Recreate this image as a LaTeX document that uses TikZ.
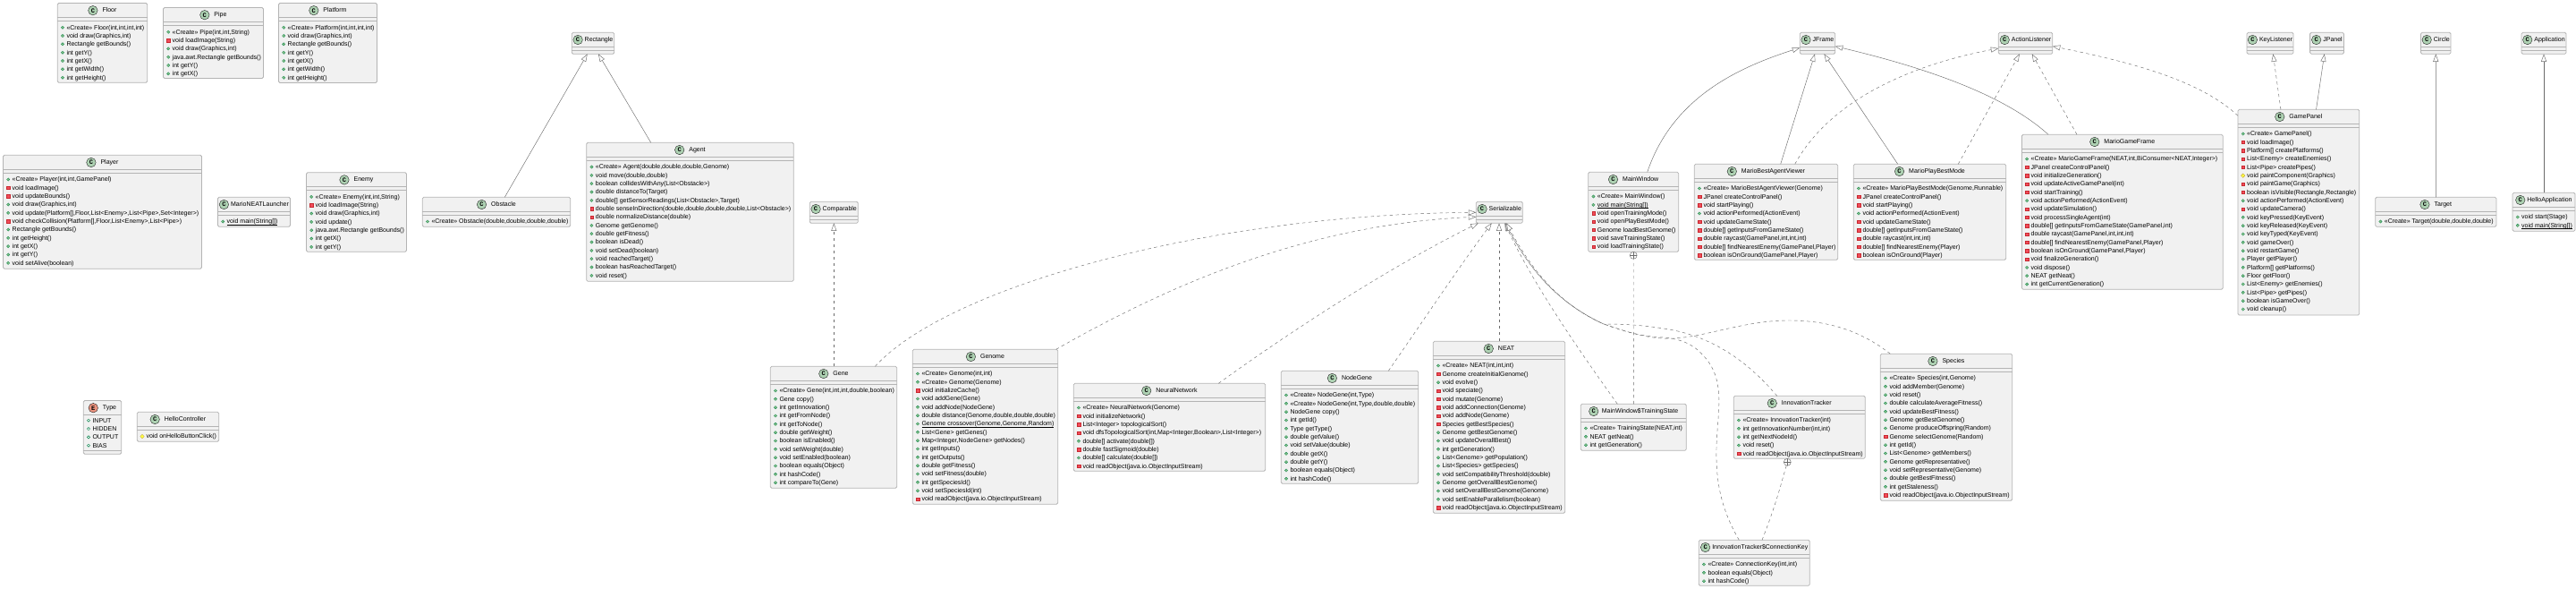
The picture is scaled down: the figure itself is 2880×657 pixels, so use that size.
\documentclass[tikz,border=0pt]{standalone}
\usepackage{fontspec}
\setmainfont{Liberation Sans}
\setmonofont{Liberation Mono}
\usepackage{tikz}
\usetikzlibrary{positioning}
\usetikzlibrary{arrows.meta}
\usetikzlibrary{shapes.geometric}

\definecolor{boxfill}{HTML}{F1F1F1}
\definecolor{boxline}{HTML}{B4B4B4}
\definecolor{iconc}{HTML}{ADD1B2}
\definecolor{icone}{HTML}{EB937F}
\definecolor{pubfill}{HTML}{84BE84}
\definecolor{publine}{HTML}{038048}
\definecolor{prifill}{HTML}{F24D5C}
\definecolor{priline}{HTML}{C82930}
\definecolor{profill}{HTML}{FFFF44}
\definecolor{proline}{HTML}{B38D22}

\tikzset{
    classbox/.style={draw=boxline,fill=boxfill,line width=.8,rounded corners=1.5,anchor=north west,inner sep=0,outer sep=0},
    sepline/.style={draw=boxline,line width=.7},
    classtitle/.style={anchor=base,inner sep=0,text height=5.4,text depth=1.4,font=\fontsize{7}{8}\selectfont},
    classicon/.style={circle,draw=black!85,line width=.4,minimum size=10.5,inner sep=0,font=\fontsize{7}{8}\selectfont\ttfamily\bfseries},
    rowtext/.style={anchor=base west,inner sep=0,font=\fontsize{7}{8}\selectfont},
    pubmark/.style={circle,draw=publine,fill=pubfill,line width=.25,minimum size=3.4,inner sep=0},
    fldmark/.style={circle,draw=publine,fill=white,line width=.5,minimum size=3.2,inner sep=0},
    primark/.style={rectangle,draw=priline,fill=prifill,line width=.25,minimum size=3.3,inner sep=0},
    promark/.style={diamond,draw=proline,fill=profill,line width=.25,minimum size=4.6,inner sep=0},
    extends/.style={draw=black!58,line width=.45,-{Triangle[open,fill=white,length=8.5,width=6]}},
    implements/.style={extends,dash pattern=on 3.5 off 3.5},
    nested/.style={draw=black!58,line width=.45,dash pattern=on 3.5 off 3.5},
    plusnode/.style={circle,draw=black!58,fill=white,line width=.45,minimum size=8,inner sep=0,outer sep=0,
        path picture={\draw[black!58,line width=.45] (path picture bounding box.north) -- (path picture bounding box.south)
            (path picture bounding box.west) -- (path picture bounding box.east);}},
}

\newcommand{\statictext}[1]{\vtop{\hbox{#1}\kern-.2pt\hrule height .35pt}}
\newcommand{\umlhead}[9][5]{
    \node[classbox,minimum width=#5,minimum height=#6] (#2) at (#3,#4) {};
    \node[classtitle] (#2-title) at ({#3+#5/2+(11+#1)/2},{#4+10.2}) {#7};
    \node[classicon,fill=#8,left=#1pt of #2-title] (#2-icon) {#9};
    \draw[sepline] ([yshift=-16]#2.north west) -- ([yshift=-16]#2.north east);
}
\newcommand{\umlrows}[4]{
    \foreach \kind/\txt [count=\i] in {#4} {
        \node[\kind] (#1-m\i) at ({#2+5.7},{#3+(\i-1)*9.333-2.4}) {};
        \node[rowtext] (#1-r\i) at ({#2+10},{#3+(\i-1)*9.333}) {\txt};
    }
}
\newcommand{\umlclass}[7][5]{
    \umlhead[#1]{#2}{#3}{#4}{#5}{#6}{#7}{iconc}{C}
    \draw[sepline] ([yshift=-20]#2.north west) -- ([yshift=-20]#2.north east);
}

\begin{document}
\begin{tikzpicture}[x=1pt,y=-1pt]
    \useasboundingbox (0,0) rectangle (2880,657);

    \umlclass{Floor}{64.3}{3.5}{100.4}{88.8}{Floor}
    \umlrows{Floor}{64.3}{33.1}{pubmark/{«Create» Floor(int,int,int,int)},pubmark/{void draw(Graphics,int)},pubmark/{Rectangle getBounds()},pubmark/{int getY()},pubmark/{int getX()},pubmark/{int getWidth()},pubmark/{int getHeight()}}

    \umlclass{Pipe}{182.5}{8.5}{112}{79}{Pipe}
    \umlrows{Pipe}{182.5}{38.1}{pubmark/{«Create» Pipe(int,int,String)},primark/{void loadImage(String)},pubmark/{void draw(Graphics,int)},pubmark/{java.awt.Rectangle getBounds()},pubmark/{int getY()},pubmark/{int getX()}}

    \umlclass{Platform}{311.5}{3.5}{110}{89}{Platform}
    \umlrows{Platform}{311.5}{33.1}{pubmark/{«Create» Platform(int,int,int,int)},pubmark/{void draw(Graphics,int)},pubmark/{Rectangle getBounds()},pubmark/{int getY()},pubmark/{int getX()},pubmark/{int getWidth()},pubmark/{int getHeight()}}

    \umlclass{Player}{3.5}{173.3}{222}{127}{Player}
    \umlrows{Player}{3.5}{202.9}{pubmark/{«Create» Player(int,int,GamePanel)},primark/{void loadImage()},primark/{void updateBounds()},pubmark/{void draw(Graphics,int)},pubmark/{void update(Platform[],Floor,List<Enemy>,List<Pipe>,Set<Integer>)},primark/{void checkCollision(Platform[],Floor,List<Enemy>,List<Pipe>)},pubmark/{Rectangle getBounds()},pubmark/{int getHeight()},pubmark/{int getX()},pubmark/{int getY()},pubmark/{void setAlive(boolean)}}

    \umlclass[2]{Launcher}{243.5}{220.3}{81}{33}{MarioNEATLauncher}
    \umlrows{Launcher}{243.5}{249.9}{pubmark/{\statictext{void main(String[])}}}

    \umlclass{Enemy}{342.5}{192.7}{112}{88.6}{Enemy}
    \umlrows{Enemy}{342.5}{222.3}{pubmark/{«Create» Enemy(int,int,String)},primark/{void loadImage(String)},pubmark/{void draw(Graphics,int)},pubmark/{void update()},pubmark/{java.awt.Rectangle getBounds()},pubmark/{int getX()},pubmark/{int getY()}}

    \umlclass{Obstacle}{472.3}{220.3}{165.4}{33}{Obstacle}
    \umlrows{Obstacle}{472.3}{249.9}{pubmark/{«Create» Obstacle(double,double,double,double)}}

    \umlclass{Agent}{655.7}{159.3}{231.6}{155}{Agent}
    \umlrows{Agent}{655.7}{188.9}{pubmark/{«Create» Agent(double,double,double,Genome)},pubmark/{void move(double,double)},pubmark/{boolean collidesWithAny(List<Obstacle>)},pubmark/{double distanceTo(Target)},pubmark/{double[] getSensorReadings(List<Obstacle>,Target)},primark/{double senseInDirection(double,double,double,double,List<Obstacle>)},primark/{double normalizeDistance(double)},pubmark/{Genome getGenome()},pubmark/{double getFitness()},pubmark/{boolean isDead()},pubmark/{void setDead(boolean)},pubmark/{void reachedTarget()},pubmark/{boolean hasReachedTarget()},pubmark/{void reset()}}

    \umlclass[2]{Rectangle}{639.3}{36.3}{47.4}{24}{Rectangle}
    \umlclass[2]{Comparable}{905.3}{225.3}{54}{24}{Comparable}

    \umlclass{Gene}{861.3}{409.3}{141.4}{136}{Gene}
    \umlrows{Gene}{861.3}{438.9}{pubmark/{«Create» Gene(int,int,int,double,boolean)},pubmark/{Gene copy()},pubmark/{int getInnovation()},pubmark/{int getFromNode()},pubmark/{int getToNode()},pubmark/{double getWeight()},pubmark/{boolean isEnabled()},pubmark/{void setWeight(double)},pubmark/{void setEnabled(boolean)},pubmark/{boolean equals(Object)},pubmark/{int hashCode()},pubmark/{int compareTo(Gene)}}

    \umlclass{Genome}{1020.3}{390.3}{162.4}{173}{Genome}
    \umlrows{Genome}{1020.3}{419.9}{pubmark/{«Create» Genome(int,int)},pubmark/{«Create» Genome(Genome)},primark/{void initializeCache()},pubmark/{void addGene(Gene)},pubmark/{void addNode(NodeGene)},pubmark/{double distance(Genome,double,double,double)},pubmark/{\statictext{Genome crossover(Genome,Genome,Random)}},pubmark/{List<Gene> getGenes()},pubmark/{Map<Integer,NodeGene> getNodes()},pubmark/{int getInputs()},pubmark/{int getOutputs()},pubmark/{double getFitness()},pubmark/{void setFitness(double)},pubmark/{int getSpeciesId()},pubmark/{void setSpeciesId(int)},primark/{void readObject(java.io.ObjectInputStream)}}

    \umlclass{NeuralNetwork}{1200.3}{428.3}{214.4}{98}{NeuralNetwork}
    \umlrows{NeuralNetwork}{1200.3}{457.9}{pubmark/{«Create» NeuralNetwork(Genome)},primark/{void initializeNetwork()},primark/{List<Integer> topologicalSort()},primark/{void dfsTopologicalSort(int,Map<Integer,Boolean>,List<Integer>)},pubmark/{double[] activate(double[])},primark/{double fastSigmoid(double)},pubmark/{double[] calculate(double[])},primark/{void readObject(java.io.ObjectInputStream)}}

    \umlclass{NodeGene}{1432.3}{414.3}{153.4}{126}{NodeGene}
    \umlrows{NodeGene}{1432.3}{443.9}{pubmark/{«Create» NodeGene(int,Type)},pubmark/{«Create» NodeGene(int,Type,double,double)},pubmark/{NodeGene copy()},pubmark/{int getId()},pubmark/{Type getType()},pubmark/{double getValue()},pubmark/{void setValue(double)},pubmark/{double getX()},pubmark/{double getY()},pubmark/{boolean equals(Object)},pubmark/{int hashCode()}}

    \umlclass{NEAT}{1602.3}{381.3}{147.4}{192}{NEAT}
    \umlrows{NEAT}{1602.3}{410.9}{pubmark/{«Create» NEAT(int,int,int)},primark/{Genome createInitialGenome()},pubmark/{void evolve()},primark/{void speciate()},primark/{void mutate(Genome)},primark/{void addConnection(Genome)},primark/{void addNode(Genome)},primark/{Species getBestSpecies()},pubmark/{Genome getBestGenome()},pubmark/{void updateOverallBest()},pubmark/{int getGeneration()},pubmark/{List<Genome> getPopulation()},pubmark/{List<Species> getSpecies()},pubmark/{void setCompatibilityThreshold(double)},pubmark/{Genome getOverallBestGenome()},pubmark/{void setOverallBestGenome(Genome)},pubmark/{void setEnableParallelism(boolean)},primark/{void readObject(java.io.ObjectInputStream)}}

    \umlclass[3.5]{Training}{1767.3}{451.3}{118}{52}{MainWindow\$TrainingState}
    \umlrows{Training}{1767.3}{480.9}{pubmark/{«Create» TrainingState(NEAT,int)},pubmark/{NEAT getNeat()},pubmark/{int getGeneration()}}

    \umlclass[2]{ConnKey}{1899.3}{603.3}{124}{51}{InnovationTracker\$ConnectionKey}
    \umlrows{ConnKey}{1899.3}{632.9}{pubmark/{«Create» ConnectionKey(int,int)},pubmark/{boolean equals(Object)},pubmark/{int hashCode()}}

    \umlclass{Tracker}{1938.3}{442.3}{147}{70}{InnovationTracker}
    \umlrows{Tracker}{1938.3}{471.9}{pubmark/{«Create» InnovationTracker(int)},pubmark/{int getInnovationNumber(int,int)},pubmark/{int getNextNodeId()},pubmark/{void reset()},primark/{void readObject(java.io.ObjectInputStream)}}

    \umlclass{Species}{2102.3}{395.3}{147.4}{164}{Species}
    \umlrows{Species}{2102.3}{424.9}{pubmark/{«Create» Species(int,Genome)},pubmark/{void addMember(Genome)},pubmark/{void reset()},pubmark/{double calculateAverageFitness()},pubmark/{void updateBestFitness()},pubmark/{Genome getBestGenome()},pubmark/{Genome produceOffspring(Random)},primark/{Genome selectGenome(Random)},pubmark/{int getId()},pubmark/{List<Genome> getMembers()},pubmark/{Genome getRepresentative()},pubmark/{void setRepresentative(Genome)},pubmark/{double getBestFitness()},pubmark/{int getStaleness()},primark/{void readObject(java.io.ObjectInputStream)}}

    \umlclass[2]{Serializable}{1650.3}{225.3}{52}{24}{Serializable}

    \umlclass{MainWindow}{1775.7}{192.3}{101}{89}{MainWindow}
    \umlrows{MainWindow}{1775.7}{221.9}{pubmark/{«Create» MainWindow()},pubmark/{\statictext{void main(String[])}},primark/{void openTrainingMode()},primark/{void openPlayBestMode()},primark/{Genome loadBestGenome()},primark/{void saveTrainingState()},primark/{void loadTrainingState()}}

    \umlclass{Viewer}{1894.3}{183.3}{160.4}{107}{MarioBestAgentViewer}
    \umlrows{Viewer}{1894.3}{212.9}{pubmark/{«Create» MarioBestAgentViewer(Genome)},primark/{JPanel createControlPanel()},primark/{void startPlaying()},pubmark/{void actionPerformed(ActionEvent)},primark/{void updateGameState()},primark/{double[] getInputsFromGameState()},primark/{double raycast(GamePanel,int,int,int)},primark/{double[] findNearestEnemy(GamePanel,Player)},primark/{boolean isOnGround(GamePanel,Player)}}

    \umlclass{PlayBest}{2072.3}{183.3}{170.4}{107}{MarioPlayBestMode}
    \umlrows{PlayBest}{2072.3}{212.9}{pubmark/{«Create» MarioPlayBestMode(Genome,Runnable)},primark/{JPanel createControlPanel()},primark/{void startPlaying()},pubmark/{void actionPerformed(ActionEvent)},primark/{void updateGameState()},primark/{double[] getInputsFromGameState()},primark/{double raycast(int,int,int)},primark/{double[] findNearestEnemy(Player)},primark/{boolean isOnGround(Player)}}

    \umlclass{GameFrame}{2260.4}{150.3}{224.8}{173}{MarioGameFrame}
    \umlrows{GameFrame}{2260.4}{179.9}{pubmark/{«Create» MarioGameFrame(NEAT,int,BiConsumer<NEAT,Integer>)},primark/{JPanel createControlPanel()},primark/{void initializeGeneration()},primark/{void updateActiveGamePanel(int)},primark/{void startTraining()},pubmark/{void actionPerformed(ActionEvent)},primark/{void updateSimulation()},primark/{void processSingleAgent(int)},primark/{double[] getInputsFromGameState(GamePanel,int)},primark/{double raycast(GamePanel,int,int,int)},primark/{double[] findNearestEnemy(GamePanel,Player)},primark/{boolean isOnGround(GamePanel,Player)},primark/{void finalizeGeneration()},pubmark/{void dispose()},pubmark/{NEAT getNeat()},pubmark/{int getCurrentGeneration()}}

    \umlclass{GamePanel}{2502}{122.3}{135.8}{229.7}{GamePanel}
    \umlrows{GamePanel}{2502}{151.9}{pubmark/{«Create» GamePanel()},primark/{void loadImage()},primark/{Platform[] createPlatforms()},primark/{List<Enemy> createEnemies()},primark/{List<Pipe> createPipes()},promark/{void paintComponent(Graphics)},primark/{void paintGame(Graphics)},primark/{boolean isVisible(Rectangle,Rectangle)},pubmark/{void actionPerformed(ActionEvent)},primark/{void updateCamera()},pubmark/{void keyPressed(KeyEvent)},pubmark/{void keyReleased(KeyEvent)},pubmark/{void keyTyped(KeyEvent)},pubmark/{void gameOver()},pubmark/{void restartGame()},pubmark/{Player getPlayer()},pubmark/{Platform[] getPlatforms()},pubmark/{Floor getFloor()},pubmark/{List<Enemy> getEnemies()},pubmark/{List<Pipe> getPipes()},pubmark/{boolean isGameOver()},pubmark/{void cleanup()}}

    \umlclass[2]{JFrame}{2012.3}{36.3}{39.4}{24}{JFrame}
    \umlclass[2]{ActionListener}{2234.3}{36.3}{60.5}{24}{ActionListener}
    \umlclass[2]{KeyListener}{2512}{36.3}{52}{24}{KeyListener}
    \umlclass[2]{JPanel}{2582.6}{36.3}{37.8}{24}{JPanel}
    \umlclass[2]{Circle}{2706.5}{36.3}{33.5}{24}{Circle}
    \umlclass[2]{Application}{2819}{36.3}{50}{24}{Application}

    \umlclass{Target}{2655.7}{220.3}{135.2}{33}{Target}
    \umlrows{Target}{2655.7}{249.9}{pubmark/{«Create» Target(double,double,double)}}

    \umlclass[2]{HelloApplication}{2809}{215.3}{70}{43}{HelloApplication}
    \umlrows{HelloApplication}{2809}{244.9}{pubmark/{void start(Stage)},pubmark/{\statictext{void main(String[])}}}

    \umlhead{Type}{93.3}{447.5}{42.4}{59.8}{Type}{icone}{E}
    \draw[sepline] ([yshift=4]Type.south west) -- ([yshift=4]Type.south east);
    \umlrows{Type}{93.3}{472.1}{fldmark/{INPUT},fldmark/{HIDDEN},fldmark/{OUTPUT},fldmark/{BIAS}}

    \umlclass{HelloController}{153.3}{460.3}{91.4}{33}{HelloController}
    \umlrows{HelloController}{153.3}{489.9}{promark/{void onHelloButtonClick()}}

    \draw[extends] ([xshift=9.3]Obstacle.north) -- ([xshift=-6.3]Rectangle.south);
    \draw[extends] ([xshift=-43.8]Agent.north) -- ([xshift=6]Rectangle.south);
    \draw[implements] (Gene.north -| Comparable.south) -- (Comparable.south);

    \draw[implements] ([xshift=46.3]Gene.north) .. controls (1060,320) and (1350,240) .. (Serializable.west);
    \draw[implements] ([xshift=79.2]Genome.north) .. controls (1330,305) and (1480,250) .. ([yshift=-5]Serializable.west);
    \draw[implements] ([xshift=54.8]NeuralNetwork.north) .. controls (1450,365) and (1560,295) .. ([xshift=-23.6]Serializable.south);
    \draw[implements] ([xshift=43.3]NodeGene.north) .. controls (1590,360) and (1630,300) .. ([xshift=-8.6]Serializable.south);
    \draw[implements] (NEAT.north) -- (NEAT.north |- Serializable.south);
    \draw[implements] ([xshift=-18]Training.north) .. controls (1775,405) and (1715,320) .. ([xshift=6]Serializable.south);

    \coordinate (merge) at (1793,362);
    \draw[implements] ([xshift=-17]ConnKey.north) .. controls (1925,570) and (1918,540) .. (1919,500)
        .. controls (1920,460) and (1930,425) .. (1905,398) .. controls (1890,380) and (1870,378) .. (1860,377)
        .. controls (1835,376) and (1815,370) .. (merge) .. controls (1745,340) and (1712,305) .. ([xshift=6.5]Serializable.south);
    \draw[implements] ([xshift=-25.1]Tracker.north) .. controls (1955,405) and (1915,375) .. (1860,367)
        .. controls (1835,363) and (1815,362) .. (merge) .. controls (1745,340) and (1712,305) .. ([xshift=7]Serializable.south);
    \draw[implements] ([xshift=-62.7]Species.north) .. controls (2075,365) and (2035,358) .. (2000,358)
        .. controls (1945,358) and (1900,380) .. (1860,378) .. controls (1835,377) and (1815,369) .. (merge)
        .. controls (1747,342) and (1714,305) .. ([xshift=8]Serializable.south);

    \node[plusnode,below=0pt of MainWindow] (MainWindow-plus) {};
    \draw[nested] (Training.north) -- (MainWindow-plus);
    \node[plusnode,anchor=north] (Tracker-plus) at ([xshift=-13.5]Tracker.south) {};
    \draw[nested] ([xshift=8.7]ConnKey.north) .. controls (1985,565) and (1990,545) .. (Tracker-plus);

    \draw[extends] ([xshift=15.5]MainWindow.north) .. controls (1870,108) and (1945,75) .. ([yshift=-5]JFrame.west);
    \draw[extends] ([xshift=16.2]Viewer.north) -- ([xshift=-3]JFrame.south);
    \draw[extends] ([xshift=-35.8]PlayBest.north) -- ([xshift=7.3]JFrame.south);
    \draw[extends] ([xshift=-82.8]GameFrame.north) .. controls (2240,105) and (2150,75) .. ([yshift=-3.4]JFrame.east);

    \draw[implements] ([xshift=32.2]Viewer.north) .. controls (2050,105) and (2150,70) .. ([yshift=-5.7]ActionListener.west);
    \draw[implements] ([xshift=31.8]PlayBest.north) -- ([xshift=-6.7]ActionListener.south);
    \draw[implements] ([xshift=-50.8]GameFrame.north) -- ([xshift=7.2]ActionListener.south);
    \draw[implements] ([yshift=-7]GamePanel.north west) .. controls (2460,90) and (2385,70) .. ([yshift=-3.4]ActionListener.east);
    \draw[implements] ([xshift=-20]GamePanel.north) -- ([xshift=3.3]KeyListener.south);
    \draw[extends] ([xshift=19.6]GamePanel.north) -- ([xshift=-2.8]JPanel.south);
    \draw[extends] (Target.north) -- (Circle.south);
    \draw[extends] (HelloApplication.north) -- (Application.south);
\end{tikzpicture}
\end{document}
